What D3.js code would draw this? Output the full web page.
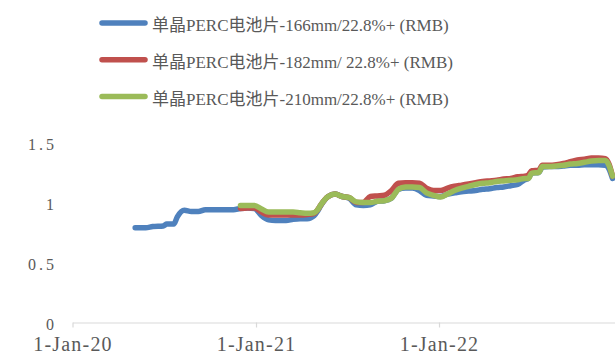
<!DOCTYPE html>
<html>
<head>
<meta charset="utf-8">
<script src="https://cdn.jsdelivr.net/npm/d3@7"></script>
<style>
  html, body { margin: 0; padding: 0; background: #fff; }
  svg { display: block; }
</style>
</head>
<body>
<svg id="chart" width="615" height="356"></svg>
<script>
// Mono PERC cell prices (RMB per watt), sampled at the dates below
const dates = [
  "2020-05-05","2020-05-26","2020-06-09","2020-06-30","2020-07-07","2020-07-21","2020-07-28",
  "2020-08-11","2020-08-25","2020-09-08","2020-09-22","2020-10-20","2020-11-17",
  "2020-12-01","2020-12-15","2020-12-29","2021-01-12","2021-01-26","2021-02-09","2021-03-02",
  "2021-03-16","2021-03-30","2021-04-13","2021-04-27","2021-05-04","2021-05-11","2021-05-25",
  "2021-06-08","2021-06-22","2021-07-06","2021-07-20","2021-08-03","2021-08-17","2021-08-31",
  "2021-09-14","2021-09-28","2021-10-12","2021-10-26","2021-11-09","2021-11-23","2021-12-07",
  "2021-12-21","2022-01-04","2022-01-18","2022-02-01","2022-02-15","2022-03-01","2022-03-15",
  "2022-03-29","2022-04-12","2022-04-26","2022-05-10","2022-05-24","2022-06-07","2022-06-21",
  "2022-06-28","2022-07-05","2022-07-19","2022-07-26","2022-08-09","2022-08-23","2022-09-06",
  "2022-09-20","2022-10-04","2022-10-18","2022-11-01","2022-11-15","2022-11-29","2022-12-06",
  "2022-12-13"
];

const price166 = [
  0.79,0.79,0.80,0.805,0.82,0.82,0.88,
  0.935,0.925,0.925,0.94,0.94,0.94,
  0.95,0.955,0.95,0.89,0.855,0.85,0.85,
  0.86,0.865,0.865,0.89,0.93,0.98,1.05,
  1.07,1.05,1.035,0.98,0.975,0.98,1.01,
  1.015,1.035,1.11,1.12,1.12,1.10,1.06,
  1.055,1.05,1.07,1.08,1.09,1.095,1.10,
  1.11,1.115,1.125,1.13,1.14,1.15,1.19,
  1.20,1.245,1.25,1.295,1.30,1.30,1.305,
  1.31,1.31,1.315,1.315,1.315,1.31,1.28,
  1.20
];

const price182 = [
  null,null,null,null,null,null,null,
  null,null,null,null,null,null,
  0.95,0.955,0.955,0.92,0.895,0.895,0.895,
  0.895,0.895,0.90,0.91,0.94,0.985,1.05,
  1.07,1.05,1.04,1.0,1.0,1.05,1.055,
  1.06,1.10,1.16,1.165,1.165,1.16,1.12,
  1.10,1.10,1.12,1.135,1.145,1.155,1.165,
  1.175,1.18,1.185,1.195,1.20,1.215,1.22,
  1.23,1.265,1.27,1.31,1.31,1.315,1.325,
  1.34,1.355,1.36,1.37,1.37,1.365,1.32,
  1.22
];

const price210 = [
  null,null,null,null,null,null,null,
  null,null,null,null,null,null,
  0.975,0.975,0.975,0.945,0.92,0.92,0.92,
  0.92,0.915,0.91,0.915,0.94,0.985,1.05,
  1.07,1.05,1.04,1.005,1.0,1.0,1.01,
  1.015,1.035,1.11,1.13,1.13,1.125,1.08,
  1.06,1.045,1.07,1.10,1.12,1.135,1.15,
  1.16,1.165,1.175,1.18,1.185,1.19,1.20,
  1.20,1.245,1.25,1.30,1.30,1.305,1.31,
  1.32,1.325,1.335,1.345,1.35,1.35,1.31,
  1.22
];

const seriesNames = [
  "单晶PERC电池片-166mm/22.8%+ (RMB)",
  "单晶PERC电池片-182mm/ 22.8%+ (RMB)",
  "单晶PERC电池片-210mm/22.8%+ (RMB)"
];
const seriesColors = ["#4f81bd", "#c0504d", "#9bbb59"];

const yTicks = [0, 0.5, 1, 1.5];
const xTicks = ["2020-01-01", "2021-01-01", "2022-01-01"];
const xDomain = ["2020-01-01", "2022-12-18"];

const parse = d3.utcParse("%Y-%m-%d");
const svg = d3.select("#chart");
const textColor = "#595959";
const latinFont = "'Liberation Serif', 'Noto Sans CJK SC', serif";

const x = d3.scaleUtc()
  .domain(xDomain.map(parse))
  .range([72.5, 615]);

const y = d3.scaleLinear()
  .domain([0, 1.5])
  .range([322.5, 142.5]);

// x axis: baseline with yearly ticks
const xAxis = d3.axisBottom(x)
  .tickValues(xTicks.map(parse))
  .tickSize(5)
  .tickSizeOuter(0)
  .tickPadding(6)
  .tickFormat(d3.utcFormat("%-d-%b-%y"));

const gx = svg.append("g")
  .attr("transform", "translate(0,322.5)")
  .call(xAxis);
gx.select(".domain").attr("stroke", "#d9d9d9").attr("stroke-width", 1.2);
gx.selectAll(".tick line").attr("stroke", "#d9d9d9").attr("stroke-width", 1.2);
gx.selectAll(".tick text")
  .attr("fill", textColor)
  .attr("font-family", latinFont)
  .attr("font-size", 20)
  .attr("letter-spacing", "1.2px")
  .attr("dy", null)
  .attr("y", 28.5);

// y axis: labels only
const yAxis = d3.axisLeft(y)
  .tickValues(yTicks)
  .tickSize(0)
  .tickPadding(0)
  .tickFormat(d => d === 0 ? "0" : d3.format("")(d));

const gy = svg.append("g")
  .attr("transform", "translate(57,0)")
  .call(yAxis);
gy.select(".domain").remove();
gy.selectAll(".tick text")
  .attr("fill", textColor)
  .attr("font-family", latinFont)
  .attr("font-size", 16)
  .attr("letter-spacing", "3px")
  .attr("dy", "0.43em");

// price lines
const valueSets = [price166, price182, price210];
const line = d3.line()
  .defined(d => d.v != null)
  .x(d => x(d.date))
  .y(d => y(d.v))
  .curve(d3.curveMonotoneX);

valueSets.forEach((vals, i) => {
  const pts = dates.map((ds, j) => ({ date: parse(ds), v: vals[j] }));
  svg.append("path")
    .datum(pts)
    .attr("fill", "none")
    .attr("stroke", seriesColors[i])
    .attr("stroke-width", 5.5)
    .attr("stroke-linejoin", "round")
    .attr("stroke-linecap", "round")
    .attr("d", line);
});

// legend
const legend = svg.append("g");
seriesNames.forEach((name, i) => {
  const cy = 23 + i * 36.8;
  legend.append("line")
    .attr("x1", 102).attr("x2", 145)
    .attr("y1", cy).attr("y2", cy)
    .attr("stroke", seriesColors[i])
    .attr("stroke-width", 5.5)
    .attr("stroke-linecap", "round");
  legend.append("text")
    .attr("x", 152)
    .attr("y", cy + 8)
    .attr("fill", textColor)
    .attr("font-family", latinFont)
    .attr("font-size", 17)
    .text(name);
});
</script>
</body>
</html>
